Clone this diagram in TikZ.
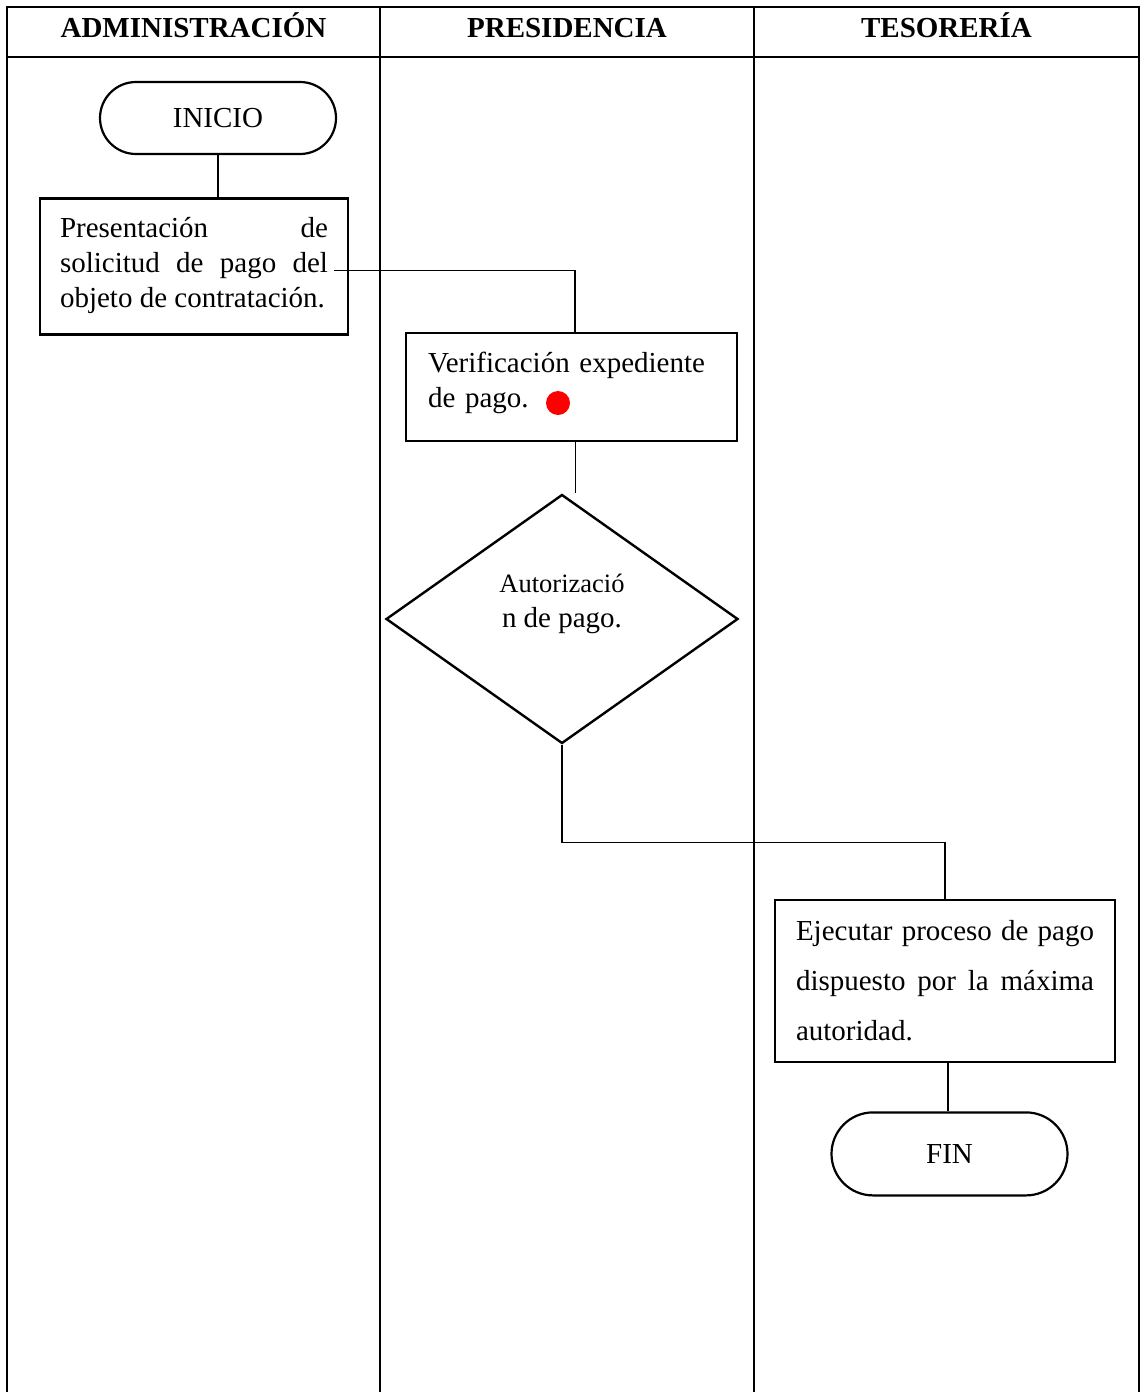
\documentclass[tikz,border=0pt]{standalone}
\usepackage{fontspec}
\setmainfont{Liberation Serif}
\usetikzlibrary{positioning,shapes.geometric,shapes.misc}

\begin{document}
\begin{tikzpicture}[
                    x=1pt,
                    y=-1pt,
                    font=\fontsize{29}{35}\selectfont,
                    lane/.style={line width=2.6pt},
                    link/.style={line width=1.3pt},
                    heading/.style={anchor=base, font=\fontsize{29}{35}\selectfont\bfseries},
                    terminal/.style={draw, rounded rectangle, line width=2.2pt, minimum width=236pt, inner sep=0pt},
                    process/.style={draw, rectangle, line width=2.6pt, align=justify, inner xsep=20pt, inner ysep=0pt},
                    decision/.style={draw, diamond, line width=2.4pt, align=center, inner sep=0pt, minimum width=352pt, minimum height=249pt}
                ]
                \useasboundingbox (0,0) rectangle (1140,1392) ;
                \draw[lane] (7,1392) -- (7,7) -- (1139,7) -- (1139,1392) ;
                \draw[lane] (7,57) -- (1139,57) ;
                \draw[lane] (380,7) -- (380,1392) ;
                \draw[lane] (754,7) -- (754,1392) ;

                \node[heading] (h-adm) at (193.5,37) {ADMINISTRACIÓN} ;
                \node[heading] (h-pre) at (567,37) {PRESIDENCIA} ;
                \node[heading] (h-tes) at (946.5,37) {TESORERÍA} ;

                \node[terminal, minimum height=72pt] (inicio) at (218,118) {INICIO} ;
                \node[process, text width=268pt, minimum height=136pt, text depth=78pt] (solicitud) [below=42pt of inicio, xshift=-24pt]
                    {Presentación de\linebreak solicitud de pago del\linebreak objeto de contratación.} ;
                \node[process, align=left, inner xsep=22pt, text width=287pt, minimum height=108pt, text depth=50pt] (verificacion) at (571.5,387)
                    {Verificación expediente\\ de pago.} ;
                \node[fill=red, circle, inner sep=0pt, minimum size=24pt] (punto) at (558,403) {} ;
                \node[decision, text depth=36pt] (autorizacion) [below=51pt of verificacion, xshift=-9.5pt]
                    {{\fontsize{26.5}{35}\selectfont Autorizació}\\ n de pago.} ;
                \node[process, inner xsep=21pt, text width=298pt, minimum height=162pt, font=\fontsize{29}{50}\selectfont] (ejecutar) at (945,981)
                    {Ejecutar proceso de pago\linebreak dispuesto por la máxima\linebreak autoridad.} ;
                \node[terminal, minimum height=83pt] (fin) [below=48pt of ejecutar, xshift=4.5pt] {FIN} ;

                \draw[link] (inicio.south) -- (inicio.south |- solicitud.north) ;
                \draw[link] ([shift={(-15,4)}]solicitud.east) -| ([xshift=3.5pt]verificacion.north) ;
                \draw[link] ([xshift=4pt]verificacion.south) -- ([xshift=4pt]verificacion.south |- autorizacion.north) ;
                \draw[link] (autorizacion.south) -- ++(0,98) -| (ejecutar.north) ;
                \draw[link] ([xshift=3pt]ejecutar.south) -- ([xshift=3pt]ejecutar.south |- fin.north) ;
\end{tikzpicture}
\end{document}
